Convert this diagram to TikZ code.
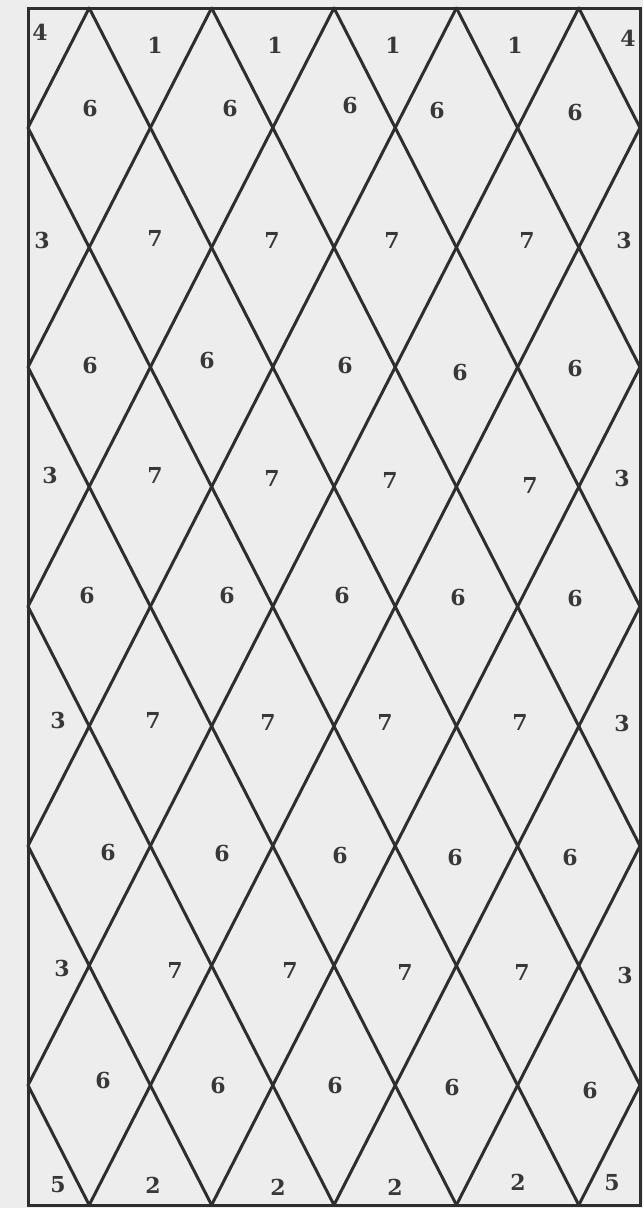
\documentclass[tikz,border=0pt]{standalone}
\usepackage{fontspec}
\setmainfont{DejaVu Serif}
\begin{document}
\begin{tikzpicture}[x=1pt,y=-1pt,
  lat/.style={line width=3pt, draw=black!82, line cap=round},
  num/.style={font=\fontsize{22}{26}\selectfont\bfseries, text=black!78, inner sep=0pt}]
\fill[black!7] (0,0) rectangle (643,1208);
\useasboundingbox (0,0) rectangle (643,1208);
\def\xL{28}\def\hx{61.2}\def\yT{8}\def\hy{119.7}
% down-right lines u - w = c
\foreach \c in {-9,-7,...,9}{
  \pgfmathsetmacro{\wa}{max(0,-\c)}
  \pgfmathsetmacro{\wb}{min(10,10-\c)}
  \draw[lat] ({\xL+\hx*(\wa+\c)},{\yT+\hy*\wa}) -- ({\xL+\hx*(\wb+\c)},{\yT+\hy*\wb});
}
% down-left lines u + w = s
\foreach \s in {1,3,...,19}{
  \pgfmathsetmacro{\wa}{max(0,\s-10)}
  \pgfmathsetmacro{\wb}{min(10,\s)}
  \draw[lat] ({\xL+\hx*(\s-\wa)},{\yT+\hy*\wa}) -- ({\xL+\hx*(\s-\wb)},{\yT+\hy*\wb});
}
\draw[lat] (\xL,\yT) rectangle (640,1205);
% labels
\foreach \x/\y/\t [count=\i] in {
  40/32/4, 155/45/1, 275/45/1, 393/45/1, 515/45/1, 628/38/4,
  90/108/6, 230/108/6, 350/105/6, 437/110/6, 575/112/6,
  42/240/3, 155/238/7, 272/240/7, 392/240/7, 527/240/7, 624/240/3,
  90/365/6, 207/360/6, 345/365/6, 460/372/6, 575/368/6,
  50/475/3, 155/475/7, 272/478/7, 390/480/7, 530/485/7, 622/478/3,
  87/595/6, 227/595/6, 342/595/6, 458/597/6, 575/598/6,
  58/720/3, 153/720/7, 268/722/7, 385/722/7, 520/722/7, 622/723/3,
  108/852/6, 222/853/6, 340/855/6, 455/857/6, 570/857/6,
  62/968/3, 175/970/7, 290/970/7, 405/972/7, 522/972/7, 625/975/3,
  103/1080/6, 218/1085/6, 335/1085/6, 452/1087/6, 590/1090/6,
  58/1185/5, 153/1185/2, 278/1187/2, 395/1187/2, 518/1182/2, 612/1183/5}
  \node[num] (lab\i) at (\x,\y) {\t};
\end{tikzpicture}
\end{document}
